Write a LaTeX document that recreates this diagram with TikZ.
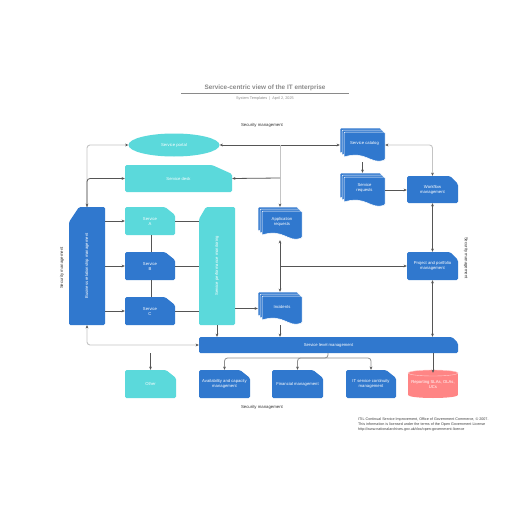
\documentclass[tikz,border=0pt]{standalone}
\usepackage{fontspec}
\setmainfont{Liberation Sans}
\usetikzlibrary{arrows.meta,shapes.geometric}
\definecolor{dblue}{HTML}{3078CE}
\definecolor{cyanc}{HTML}{5BD9DB}
\definecolor{salmon}{HTML}{FF8585}
\definecolor{lnk}{HTML}{555555}
\definecolor{lgray}{HTML}{C4C4C4}
\definecolor{mgray}{HTML}{8E8E8E}
\definecolor{ttl}{HTML}{8A8A8A}

% name, x1, y1, x2, y2, colour, cut-x, cut-y, text  (cut at top right)
\newcommand\boxTR[9]{%
  \fill[#6, rounded corners=1.5pt] ({(#2+#4)/2},#3) -- ({#4-#7},#3) -- (#4,{#3+#8}) -- (#4,#5) -- (#2,#5) -- (#2,#3) -- cycle;
  \node[txt, minimum width={(#4-#2)*1pt}, minimum height={(#5-#3)*1pt}] (#1) at ({(#2+#4)/2},{(#3+#5)/2}) {#9};}
% cut at top left, rotated text
\newcommand\boxTL[9]{%
  \fill[#6, rounded corners=1.5pt] ({(#2+#4)/2},#3) -- (#4,#3) -- (#4,#5) -- (#2,#5) -- (#2,{#3+#8}) -- ({#2+#7},#3) -- cycle;
  \node[txt, minimum width={(#4-#2)*1pt}, minimum height={(#5-#3)*1pt}] (#1) at ({(#2+#4)/2},{(#3+#5)/2}) {};
  \node[txt, rotate=90] at ({(#2+#4)/2},{(#3+#5)/2}) {#9};}
% one document sheet
\newcommand\docsheet[4]{%
  \filldraw[dblue, draw=white, line width=0.5pt, rounded corners=1pt] (#1,{#4-5}) -- (#1,#2) -- (#3,#2) -- (#3,{#4-2})
    [sharp corners] .. controls ({#3-0.3*(#3-#1)},{#4+3}) and ({#1+0.45*(#3-#1)},{#4-12}) .. (#1,{#4-5}) -- cycle;}
% multi-document: name, x1,y1,x2,y2,text
\newcommand\mdoc[6]{%
  \docsheet{#2}{#3}{#4-4}{#5-4}
  \docsheet{#2+2}{#3+2}{#4-2}{#5-2}
  \docsheet{#2+4}{#3+4}{#4}{#5}
  \node[minimum width={(#4-#2)*1pt}, minimum height={(#5-#3)*1pt}, inner sep=0pt] (#1) at ({(#2+#4)/2},{(#3+#5)/2}) {};
  \node[txt] at ({(#2+#4)/2+2},{(#3+#5)/2-2}) {#6};}

\begin{document}
\begin{tikzpicture}[x=1pt,y=-1pt,
  txt/.style={text=white, font=\fontsize{4.2}{5}\selectfont, align=center, inner sep=0pt},
  lbl/.style={text=black!80, font=\fontsize{4.3}{5}\selectfont, inner sep=0pt},
  arr/.style={draw=lnk, line width=0.8pt, -{Stealth[length=3.2pt,width=2.8pt]}},
  darr/.style={draw=lnk, line width=0.8pt, {Stealth[length=3.2pt,width=2.8pt]}-{Stealth[length=3.2pt,width=2.8pt]}},
  garr/.style={draw=lgray, line width=0.9pt, -{Stealth[length=3.2pt,width=2.8pt,color=lnk]}},
  gdarr/.style={draw=lgray, line width=0.9pt, {Stealth[length=3.2pt,width=2.8pt,color=lnk]}-{Stealth[length=3.2pt,width=2.8pt,color=lnk]}},
  marr/.style={draw=mgray, line width=0.8pt, -{Stealth[length=3.2pt,width=2.8pt,color=lnk]}},
  plain/.style={draw=lnk, line width=0.8pt}]
\useasboundingbox[fill=white] (0,0) rectangle (516,516);

% title
\node[text=ttl, font=\bfseries\fontsize{6.4}{7}\selectfont, inner sep=0pt] (title) at (265,88) {Service-centric view of the IT enterprise};
\draw[ttl, line width=0.7pt] (181,93.5) -- (349,93.5);
\node[text=ttl, font=\fontsize{3.8}{4.5}\selectfont, inner sep=0pt] (sub) at (265,98.5) {System Templates \ \textbar\ \ April 2, 2025};

% labels
\node[lbl] (smtop) at (262,125) {Security management};
\node[lbl] (smbot) at (262,407) {Security management};
\node[lbl, rotate=90] (smleft) at (62,268) {Security management};
\node[lbl, rotate=-90] (smright) at (466,258) {Security management};

% shapes
\fill[cyanc] (174,145) ellipse (45.5 and 11.5);
\node[txt, minimum width=91pt, minimum height=23pt, ellipse] (portal) at (174,145) {Service portal};
\boxTR{desk}{125}{165}{232}{192}{cyanc}{20}{9}{Service desk}
\mdoc{cat}{340}{128}{385}{162}{Service catalog}
\mdoc{req}{340}{173}{385}{207}{Service\\requests}
\boxTR{wf}{407}{176}{458}{203}{dblue}{8}{8}{Workflow\\management}
\boxTL{brm}{69}{207}{105}{325}{dblue}{10}{15}{Business relationship management}
\boxTR{sA}{125}{207}{175}{235}{cyanc}{10}{8}{Service\\A}
\boxTR{sB}{125}{252}{175}{280}{dblue}{10}{8}{Service\\B}
\boxTR{sC}{125}{297}{175}{325}{dblue}{10}{8}{Service\\C}
\boxTL{spm}{199}{207}{235}{325}{cyanc}{7}{12}{Service performance monitoring}
\mdoc{appreq}{258}{207}{302}{240}{Application\\requests}
\mdoc{incid}{258}{292}{302}{325}{Incidents}
\boxTR{proj}{407}{252}{458}{280}{dblue}{8}{8}{Project and portfolio\\management}
\boxTR{slm}{199}{337}{458}{353}{dblue}{6}{6}{Service level management}
\boxTR{other}{125}{370}{176}{398}{cyanc}{10}{8}{Other}
\boxTR{avail}{199}{370}{250}{398}{dblue}{10}{8}{Availability and capacity\\management}
\boxTR{fin}{272}{370}{323}{398}{dblue}{10}{8}{Financial management}
\boxTR{itsc}{346}{370}{396}{398}{dblue}{10}{8}{IT service continuity\\management}
% cylinder
\fill[salmon] (408,373) rectangle (458,395);
\fill[salmon] (433,395) ellipse (25 and 3);
\fill[salmon] (433,373) ellipse (25 and 3);
\draw[white!60!salmon, line width=0.4pt] (433,373) ellipse (25 and 3);
\node[txt, minimum width=50pt, minimum height=28pt] (rep) at (433,384) {Reporting SLAs, OLAs,\\UCs};

% attribution
\node[anchor=north west, align=left, text=black!75, font=\fontsize{3.7}{4.9}\selectfont, inner sep=0pt] (attr) at (358,418)
 {ITIL Continual Service Improvement, Office of Government Commerce, \textcopyright\ 2007.\\
  This information is licensed under the terms of the Open Government License\\
  http://www.nationalarchives.gov.uk/doc/open-government-licence};

% connectors
\coordinate (j1) at (280,145);
\coordinate (j2) at (280,178);
\coordinate (br) at (328,358);
\draw[darr] (cat.west) -- (portal.east);
\draw[garr] (j1) -- (appreq.north);
\draw[arr] (j2) -- (desk.east);
\draw[gdarr, rounded corners=3pt] (brm.north) |- (portal.west);
\draw[arr, rounded corners=3pt] (brm.north) |- (desk.west);
\draw[arr] (sA.west -| brm.east) -- (sA.west);
\draw[arr] (sB.west -| brm.east) -- (sB.west);
\draw[arr] (sC.west -| brm.east) -- (sC.west);
\draw[plain] (sA.east) -- (sA.east -| spm.west);
\draw[plain] (sB.east) -- (sB.east -| spm.west);
\draw[plain] (sC.east) -- (sC.east -| spm.west);
\draw[plain] ([xshift=1pt]sA.south) -- ([xshift=1pt]sB.north);
\draw[plain] ([xshift=1pt]sB.south) -- ([xshift=1pt]sC.north);
\draw[arr] (incid.west -| spm.east) -- (incid.west);
\draw[arr] (spm.south) -- (spm.south |- slm.north);
\draw[darr] (appreq.south) -- (incid.north);
\draw[arr] (appreq.south |- proj.west) -- (proj.west);
\draw[arr] (incid.south) -- (incid.south |- slm.north);
\draw[arr] (cat.south) -- (req.north);
\draw[arr] (req.east) -- (req.east -| wf.west);
\draw[gdarr, rounded corners=3pt] (cat.east) -| (wf.north);
\draw[darr] (wf.south) -- (proj.north);
\draw[darr] (proj.south) -- (proj.south |- slm.north);
\draw[arr] (rep.north |- slm.south) -- ([yshift=-3pt]rep.north);
\draw[gdarr, rounded corners=3pt] (brm.south) |- (slm.west);
\draw[arr] (other.north |- slm.south) -- (other.north);
\draw[marr, rounded corners=3pt] (br |- slm.south) -- (br) -| (avail.north);
\draw[marr, rounded corners=3pt] (br) -| (fin.north);
\draw[marr, rounded corners=3pt] (br) -| (itsc.north);
\end{tikzpicture}
\end{document}
